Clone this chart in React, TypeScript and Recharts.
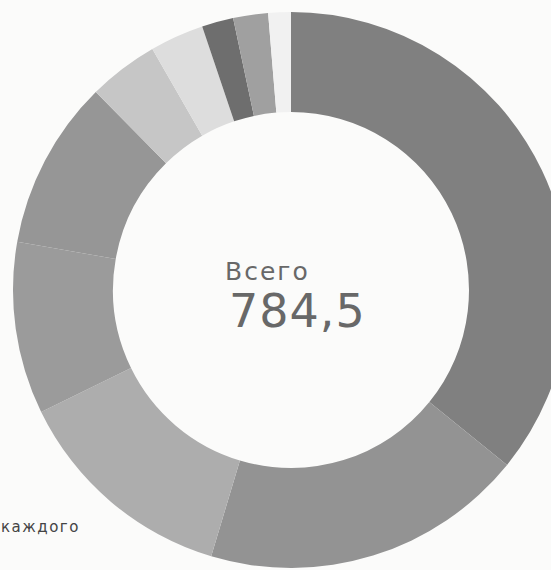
import { Cell, Pie, PieChart } from 'recharts';

const segmentNames = ['s1', 's2', 's3', 's4', 's5', 's6', 's7', 's8', 's9', 's10'];
const segmentValues = [281.1, 147.5, 103.1, 78.5, 77.1, 32.0, 24.6, 14.4, 15.9, 10.3];
const segmentColors = [
  '#808080',
  '#939393',
  '#adadad',
  '#9b9b9b',
  '#969696',
  '#c6c6c6',
  '#dddddd',
  '#6e6e6e',
  '#a0a0a0',
  '#f1f1f1',
];

const totalLabel = 'Всего';
const totalValue = '784,5';
const footnote = 'каждого';

const data = segmentNames.map((name, i) => ({ name, value: segmentValues[i] }));

const textColor = '#686868';
const font = "'DejaVu Sans', sans-serif";

const App = () => (
  <div
    style={{
      position: 'fixed',
      left: 0,
      top: 0,
      width: 551,
      height: 570,
      background: '#fbfbfa',
      overflow: 'hidden',
    }}
  >
    <PieChart width={551} height={570} margin={{ top: 0, right: 0, bottom: 0, left: 0 }}>
      <Pie
        data={data}
        dataKey="value"
        nameKey="name"
        cx={291}
        cy={290}
        innerRadius={178}
        outerRadius={278}
        startAngle={90}
        endAngle={-270}
        stroke="none"
        isAnimationActive={false}
      >
        {data.map((entry, i) => (
          <Cell key={entry.name} fill={segmentColors[i]} />
        ))}
      </Pie>
    </PieChart>
    {/* center total, drawn over the chart */}
    <svg
      width={551}
      height={570}
      style={{ position: 'absolute', left: 0, top: 0, pointerEvents: 'none' }}
    >
      <text x={225} y={280} fill={textColor} fontFamily={font} fontSize={25} letterSpacing={2}>
        {totalLabel}
      </text>
      <text x={229} y={327} fill={textColor} fontFamily={font} fontSize={46} letterSpacing={1}>
        {totalValue}
      </text>
      <text x={1} y={532} fill="#444444" fontFamily={font} fontSize={15} letterSpacing={1.5}>
        {footnote}
      </text>
    </svg>
  </div>
);

export default App;
